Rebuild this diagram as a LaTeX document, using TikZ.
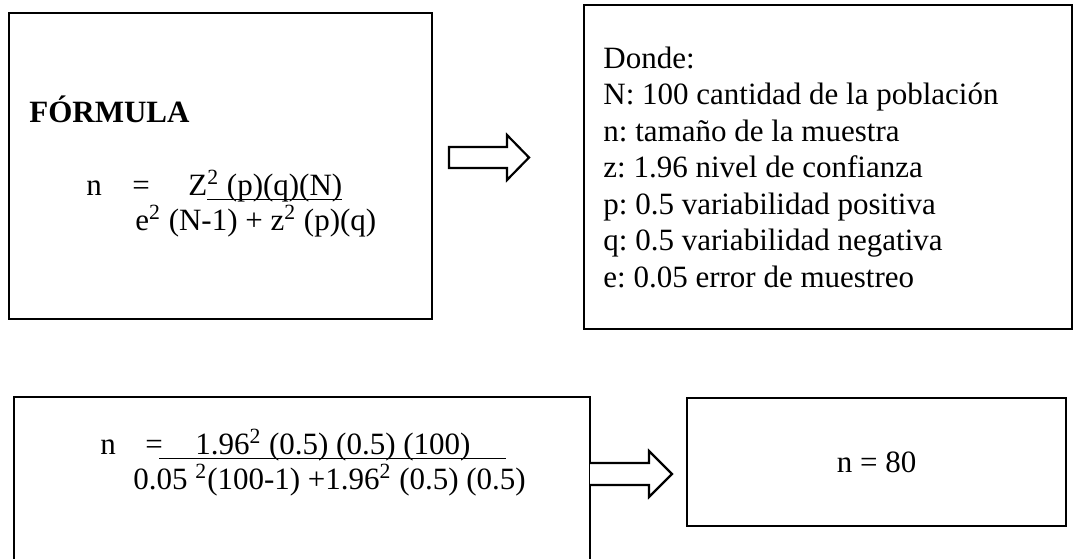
\documentclass[tikz,border=0pt]{standalone}
\usepackage{fontspec}
\setmainfont{Liberation Serif}
\frenchspacing

% subrayado pegado a la linea base
\newcommand{\subrayado}[1]{\underline{\raisebox{0pt}[\height][1pt]{#1}}}

\tikzset{
	caja/.style={draw, line width=1.2pt, inner sep=0pt, outer sep=0pt},
	texto/.style={anchor=base west, inner sep=0pt, font=\fontsize{15.5}{18.25}\selectfont},
	flecha/.style={draw, line width=1.1pt, fill=white, line join=miter}
}

\begin{document}
\begin{tikzpicture}[x=0.5pt, y=-0.5pt]
	\fill[white] (0,0) rectangle (1074,558);
	\useasboundingbox (0,0) rectangle (1074,558);
	\clip (0,0) rectangle (1074,558);

	% cajas
	\node[caja, minimum width=211.5pt, minimum height=153pt] (formula) at (220.5,166) {};
	\node[caja, minimum width=244pt, minimum height=162pt] (donde) at (828,167) {};
	\node[caja, minimum width=288pt, minimum height=111.5pt] (sustitucion) at (302,508.5) {};
	\node[caja, minimum width=189.5pt, minimum height=64pt, font=\fontsize{15.5}{18.25}\selectfont] (resultado) at (876.5,462) {n = 80};

	% formula general
	\node[texto, font=\fontsize{15.5}{18.25}\selectfont\bfseries] (titulo) at (29,122) {FÓRMULA};
	\node[texto] (n1) at (86,195) {n};
	\node[texto] (igual1) at (132,195) {=};
	\node[texto] (num1) at (188,195) {Z\subrayado{\textsuperscript{2} (p)(q)(N)}};
	\node[texto] (den1) at (135,230) {e\textsuperscript{2} (N-1) + z\textsuperscript{2} (p)(q)};

	% variables (base = ultima linea)
	\node[texto, align=left] (lista) at (603,287) {Donde:\\
		N: 100 cantidad de la población\\
		n: tamaño de la muestra\\
		z: 1.96 nivel de confianza\\
		p: 0.5 variabilidad positiva\\
		q: 0.5 variabilidad negativa\\
		e: 0.05 error de muestreo};

	% sustitucion
	\node[texto] (n2) at (100,454) {n};
	\node[texto] (igual2) at (145,454) {=};
	\node[texto] (num2) at (159,454) {\subrayado{\makebox[173.5pt]{1.96\textsuperscript{2} (0.5) (0.5) (100)}}};
	\node[texto] (den2) at (133,489) {0.05 \textsuperscript{2}(100-1) +1.96\textsuperscript{2} (0.5) (0.5)};

	% flechas
	\draw[flecha] (formula.east) ++(17,-19)
	  -- ++(58,0)
	  -- ++(0,-12)
	  -- ++(22,22.5)
	  -- ++(-22,22.5)
	  -- ++(0,-12)
	  -- ++(-58,0)
	  -- cycle;

	\draw[flecha] (sustitucion.north east) ++(0,66)
	  -- ++(59,0)
	  -- ++(0,-12)
	  -- ++(23,23)
	  -- ++(-23,23)
	  -- ++(0,-12)
	  -- ++(-59,0);
\end{tikzpicture}
\end{document}
